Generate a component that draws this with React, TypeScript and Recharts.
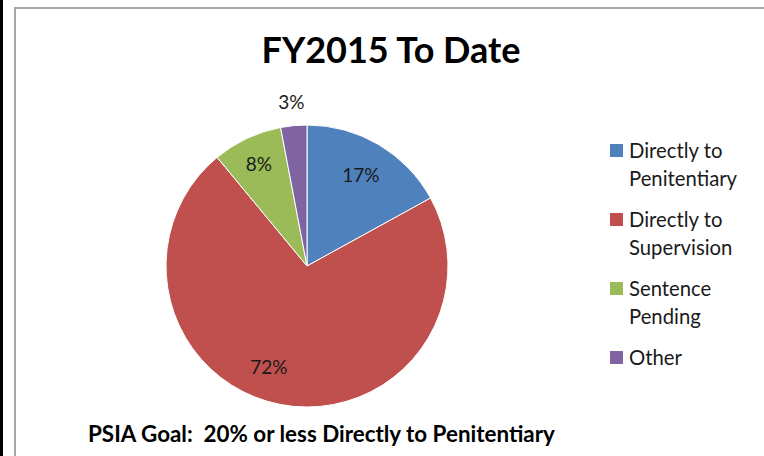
import React from 'react';
import { PieChart, Pie, Cell, Legend } from 'recharts';

const categories = ['Directly to Penitentiary', 'Directly to Supervision', 'Sentence Pending', 'Other'];
const values = [17, 72, 8, 3];
const colors = ['#4F81BD', '#C0504D', '#9BBB59', '#8064A2'];
const titleText = 'FY2015 To Date';
const footerText = 'PSIA Goal:  20% or less Directly to Penitentiary';

const data = categories.map((name, i) => ({ name, value: values[i] }));

const FONT = 'Lato, "Open Sans", sans-serif';
const RAD = Math.PI / 180;

const renderLabel = (props: any) => {
  const { cx, cy, midAngle, outerRadius, index, value } = props;
  const small = value < 5;
  const r = small ? outerRadius + 24 : outerRadius * (index === 1 ? 0.76 : index === 2 ? 0.8 : 0.75);
  const ang = index === 1 ? midAngle - 10 : midAngle;
  const x = cx + r * Math.cos(-ang * RAD);
  const y = cy + r * Math.sin(-ang * RAD);
  return (
    <text x={x} y={y} textAnchor="middle" dominantBaseline="central" fill="#1a1a1a" fontSize={19} fontFamily={FONT}>
      {`${value}%`}
    </text>
  );
};

const renderLegend = () => (
  <div style={{ fontFamily: FONT, fontSize: 20.3, color: '#1a1a1a' }}>
    {data.map((d, i) => (
      <div key={d.name} style={{ display: 'flex', alignItems: 'flex-start', marginBottom: 13 }}>
        <div style={{ width: 13, height: 13, background: colors[i], marginTop: 8, marginRight: 6, flex: 'none' }} />
        <div style={{ width: 128, lineHeight: '28px' }}>{d.name}</div>
      </div>
    ))}
  </div>
);

export default function App() {
  return (
    <div style={{ position: 'absolute', left: 0, top: 0, width: 764, height: 456, background: '#fff', overflow: 'hidden' }}>
      <div style={{ position: 'absolute', left: 0, top: 0, width: 3, height: 456, background: '#000' }} />
      <div style={{ position: 'absolute', left: 14, top: 7, width: 760, height: 460, border: '2px solid #a6a6a6', boxSizing: 'border-box' }} />
      <div style={{ position: 'absolute', left: 191, top: 27, width: 400, textAlign: 'center' }}>
        <span style={{ fontFamily: FONT, fontWeight: 700, fontSize: 36, color: '#000' }}>{titleText}</span>
      </div>
      <div style={{ position: 'absolute', left: 0, top: 0 }}>
        <PieChart width={764} height={456} margin={{ top: 0, right: 0, bottom: 0, left: 0 }}>
          <Pie
            data={data}
            dataKey="value"
            nameKey="name"
            cx={307}
            cy={266}
            outerRadius={141}
            startAngle={90}
            endAngle={-270}
            stroke="#ffffff"
            strokeWidth={1}
            label={renderLabel}
            labelLine={false}
            isAnimationActive={false}
          >
            {data.map((d, i) => (
              <Cell key={d.name} fill={colors[i]} />
            ))}
          </Pie>
          <Legend content={renderLegend} layout="vertical" wrapperStyle={{ position: 'absolute', left: 610, top: 136, width: 154 }} />
        </PieChart>
      </div>
      <div style={{ position: 'absolute', left: 88, top: 420, whiteSpace: 'pre', fontFamily: FONT, fontWeight: 700, fontSize: 22.4, color: '#000' }}>
        {footerText}
      </div>
    </div>
  );
}
